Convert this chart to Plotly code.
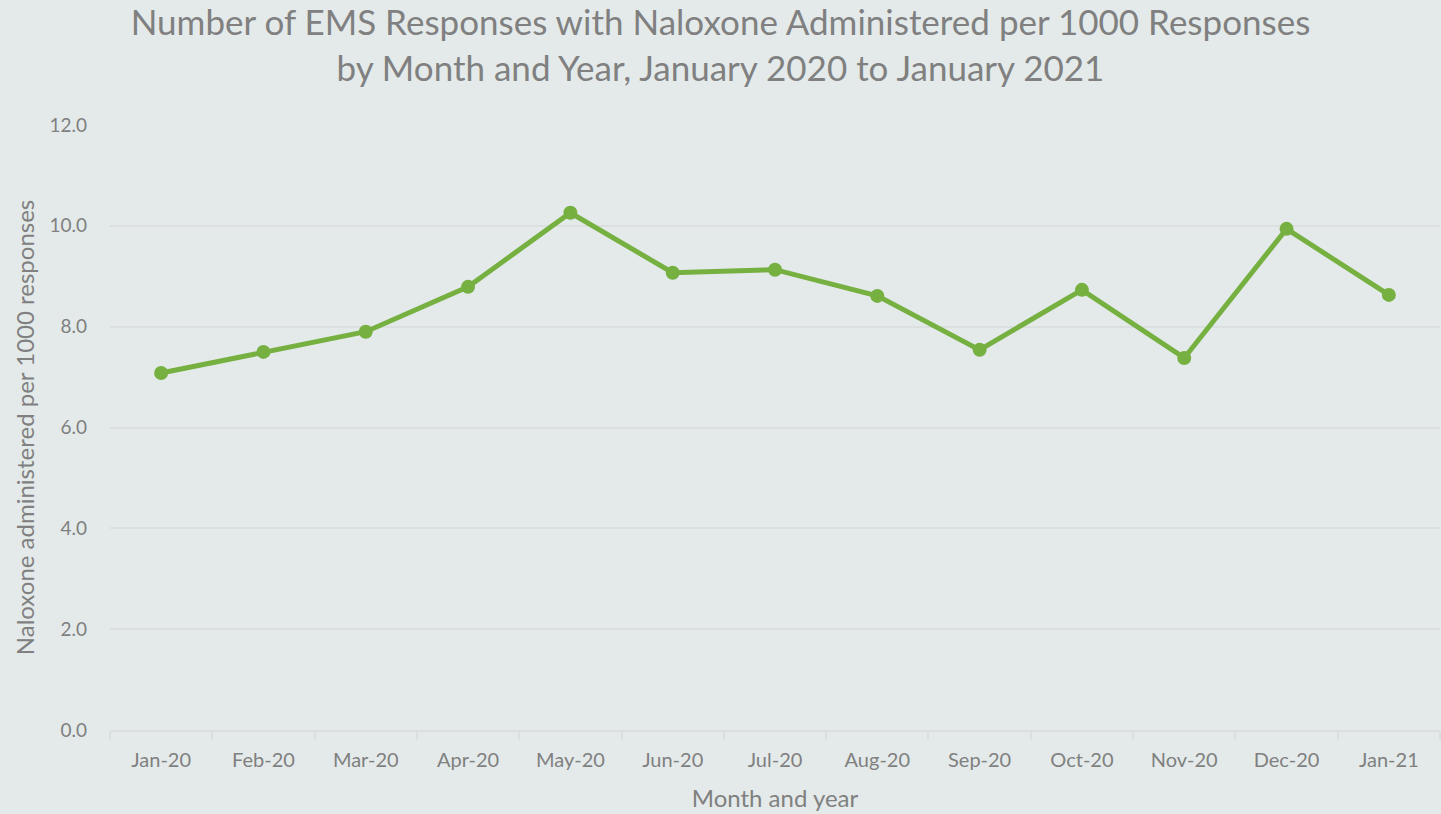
import plotly.graph_objects as go

months = ["Jan-20", "Feb-20", "Mar-20", "Apr-20", "May-20", "Jun-20", "Jul-20",
          "Aug-20", "Sep-20", "Oct-20", "Nov-20", "Dec-20", "Jan-21"]
rate = [7.08, 7.50, 7.90, 8.79, 10.26, 9.07, 9.13, 8.61, 7.54, 8.73, 7.38, 9.94, 8.63]
y_ticks = [0, 2, 4, 6, 8, 10, 12]
y_tick_labels = ["0.0", "2.0", "4.0", "6.0", "8.0", "10.0", "12.0"]

FONT = "Lato, Open Sans, sans-serif"
GREY = "#808080"
BG = "#e4eaea"

fig = go.Figure(go.Scatter(
    x=months, y=rate, mode="lines+markers",
    line=dict(color="#76b041", width=5),
    marker=dict(color="#76b041", size=14),
    hoverinfo="x+y",
))

fig.update_layout(
    width=1441, height=814,
    paper_bgcolor=BG, plot_bgcolor=BG,
    margin=dict(l=110, r=1, t=125, b=84),
    showlegend=False,
    font=dict(family=FONT, color=GREY),
    title=dict(
        text="Number of EMS Responses with Naloxone Administered per 1000 Responses<br>by Month and Year, January 2020 to January 2021",
        x=0.5, xanchor="center", y=0.957, yanchor="top",
        font=dict(family=FONT, size=35, color=GREY),
    ),
    xaxis=dict(
        type="category",
        tickfont=dict(size=20, color=GREY),
        title=dict(text="Month and year", font=dict(size=24, color=GREY), standoff=20),
        showgrid=False,
        showline=True, linecolor="#dcdfdf", linewidth=2,
        ticks="outside", tickson="boundaries", ticklen=8, tickcolor="#dcdfdf", tickwidth=2,
        ticklabelstandoff=11,
        range=[-0.5, 12.5],
    ),
    yaxis=dict(
        range=[0, 12], tickvals=y_ticks, ticktext=y_tick_labels,
        tickfont=dict(size=19, color=GREY),
        title=dict(text="Naloxone administered per 1000 responses", font=dict(size=24, color=GREY), standoff=8),
        showgrid=True, gridcolor="#dcdfdf", gridwidth=2,
        zeroline=False, ticks="", ticklabelstandoff=22,
    ),
)

fig.write_html("out.html", config={"displayModeBar": False},
               post_script="document.body.style.margin='0';document.body.style.background='#e4eaea';")
